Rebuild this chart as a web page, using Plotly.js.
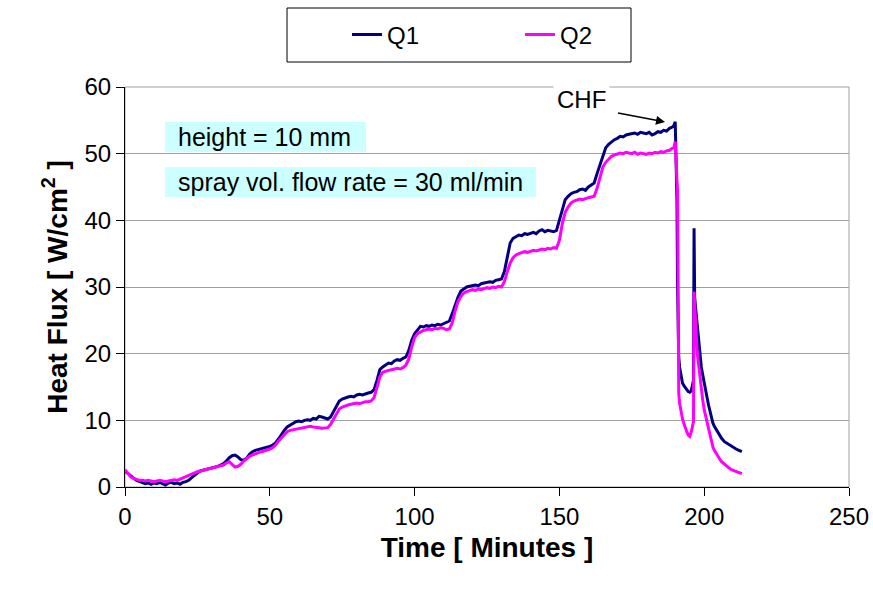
<!DOCTYPE html>
<html>
<head>
<meta charset="utf-8">
<script src="https://cdn.plot.ly/plotly-3.0.1.min.js"></script>
<style>html,body{margin:0;padding:0;background:#fff;}#chart{width:873px;height:594px;}</style>
</head>
<body>
<div id="chart"></div>
<script>
// Time in minutes (shared x values)
const minutes = [
0,1,2,3,4,5,6,7,8,9,10,11,12,13,14,15,16,17,18,19,20,21,22,23,24,25,26,27,28,29,
30,31,32,33,34,35,36,37,38,39,40,41,42,43,44,45,46,47,48,49,50,51,52,53,54,55,56,57,58,59,
60,61,62,63,64,65,66,67,68,69,70,71,72,73,74,75,76,77,78,79,80,81,82,83,84,85,86,87,88,89,
90,91,92,93,94,95,96,97,98,99,100,101,102,103,104,105,106,107,108,109,110,111,112,113,114,115,116,117,118,119,
120,121,122,123,124,125,126,127,128,129,130,131,132,133,134,135,136,137,138,139,140,141,142,143,144,145,146,147,148,149,
150,151,152,153,154,155,156,157,158,159,160,161,162,163,164,165,166,167,168,169,170,171,172,173,174,175,176,177,178,179,
180,181,182,183,184,185,186,187,188,189,
189.5,190,190.2,190.4,190.6,190.8,191,191.2,191.5,192,192.5,193,193.5,194,194.5,195,195.5,196,196.3,196.5,
196.7,197,197.3,197.6,198,198.5,199,199.5,200,200.5,201,201.5,202,202.5,203,203.5,204,204.5,205,205.5,
206,207,208,209,210,211,212,213
];

// Q1 heat flux [W/cm2]
const q1 = [
2.4,2.0,1.6,1.3,1.0,0.8,0.7,0.5,0.6,0.4,
0.6,0.5,0.7,0.5,0.3,0.6,0.7,0.5,0.6,0.4,
0.7,0.8,1.0,1.4,1.8,2.1,2.4,2.5,2.6,2.8,
2.9,3.0,3.1,3.3,3.5,3.9,4.4,4.7,4.8,4.5,
4.1,4.0,4.3,4.9,5.3,5.5,5.6,5.7,5.9,6.0,
6.1,6.3,6.6,7.2,7.9,8.5,9.0,9.3,9.6,9.8,
9.9,9.8,10.0,10.1,10.0,10.3,10.2,10.6,10.5,10.3,
10.2,10.5,11.3,12.3,12.9,13.2,13.4,13.5,13.6,13.5,
13.8,13.9,13.8,14.0,14.1,14.2,14.6,16.0,17.6,18.0,
18.3,18.6,18.5,18.9,19.1,19.0,19.3,19.5,20.5,22.0,
23.0,23.6,24.1,24.0,24.2,24.1,24.3,24.2,24.4,24.3,
24.5,24.6,24.9,26.0,27.3,28.5,29.4,29.7,30.0,30.1,
30.2,30.3,30.2,30.5,30.6,30.7,30.8,30.7,31.0,31.1,
31.2,32.3,34.5,36.6,37.3,37.6,37.8,37.7,38.0,37.9,
38.1,38.2,38.0,38.4,38.6,38.3,38.5,38.4,38.3,38.5,
40.0,41.8,43.1,43.6,44.0,44.2,44.3,44.6,44.7,44.5,
45.0,45.3,45.6,47.0,48.3,49.8,50.9,51.4,51.8,52.1,
52.3,52.6,52.5,52.8,52.9,53.0,53.1,52.9,53.2,53.1,
53.0,53.2,52.8,53.0,53.3,53.2,53.5,53.4,53.8,54.0,
54.2,54.8,50.0,45.0,42.6,30.0,21.0,19.5,18.0,16.5,
15.6,15.2,14.8,14.6,14.3,14.2,14.4,15.2,16.0,38.8,
28.6,27.0,25.5,24.1,22.0,19.5,18.0,16.8,15.5,14.3,
13.4,12.3,11.3,10.4,9.6,9.1,8.7,8.3,7.9,7.6,
7.3,6.8,6.5,6.2,5.9,5.7,5.5,5.3
];

// Q2 heat flux [W/cm2]
const q2 = [
2.6,2.0,1.5,1.3,1.1,1.0,1.0,0.9,1.0,0.9,
0.8,0.9,1.0,0.9,0.8,0.9,1.0,1.1,1.0,1.2,
1.4,1.5,1.7,1.9,2.1,2.3,2.4,2.5,2.6,2.7,
2.8,2.9,3.0,3.1,3.3,3.6,3.8,3.4,3.0,3.1,
3.4,3.9,4.3,4.6,4.8,5.0,5.2,5.3,5.4,5.5,
5.7,5.9,6.3,6.9,7.4,7.9,8.3,8.5,8.6,8.7,
8.8,8.9,9.0,9.0,9.1,9.0,9.0,8.9,8.8,8.8,
8.9,9.4,10.2,11.0,11.7,12.0,12.2,12.3,12.4,12.5,
12.6,12.5,12.7,12.8,12.8,12.9,13.4,14.8,16.5,17.2,
17.4,17.5,17.6,17.7,17.8,17.7,17.9,18.3,19.2,21.0,
22.4,23.0,23.3,23.5,23.6,23.7,23.6,23.8,23.7,23.9,
23.8,23.6,23.7,24.6,26.4,27.8,28.6,29.1,29.3,29.5,
29.6,29.5,29.7,29.6,29.8,29.9,29.8,30.0,29.9,30.1,
30.0,30.8,32.3,33.6,34.4,34.8,35.0,35.1,35.3,35.2,
35.4,35.5,35.4,35.6,35.7,35.6,35.8,35.7,35.9,35.8,
37.0,39.5,41.2,42.0,42.6,42.9,43.0,43.2,43.1,43.3,
43.4,43.5,43.6,44.8,46.6,48.0,48.7,49.2,49.6,49.8,
50.0,50.1,50.0,50.2,50.1,50.0,50.2,49.9,50.1,50.0,
49.9,50.1,50.0,50.2,50.1,50.3,50.2,50.4,50.5,50.8,
50.9,51.8,49.0,47.5,46.0,44.5,14.6,14.1,12.6,11.0,
10.2,9.5,8.8,8.3,7.8,7.6,8.2,9.2,9.8,29.3,
27.0,24.6,22.5,20.1,18.5,17.1,15.0,13.0,11.6,10.6,
10.0,9.0,8.1,7.0,6.0,5.5,5.1,4.7,4.4,4.1,
3.8,3.4,3.0,2.7,2.5,2.3,2.1,2.0
];

const seriesNames = ["Q1", "Q2"];
const xTickVals = [0, 50, 100, 150, 200, 250];
const yTickVals = [0, 10, 20, 30, 40, 50, 60];
const xTitle = "Time [ Minutes ]";
const yTitle = "Heat Flux [ W/cm<sup>2</sup> ]";
const noteHeight = "height = 10 mm";
const noteFlow = "spray vol. flow rate = 30 ml/min";
const chfLabel = "CHF";

const FONT = "Liberation Sans, Arial, Helvetica, sans-serif";

const traces = [
  {x: minutes, y: q1, name: seriesNames[0], type: "scatter", mode: "lines",
   line: {color: "#000080", width: 3}},
  {x: minutes, y: q2, name: seriesNames[1], type: "scatter", mode: "lines",
   line: {color: "#FF00FF", width: 3}}
];

const layout = {
  width: 873, height: 594,
  margin: {l: 125, r: 24, t: 87, b: 107, pad: 0},
  paper_bgcolor: "#ffffff", plot_bgcolor: "#ffffff",
  font: {family: FONT, size: 24, color: "#000"},
  showlegend: true,
  legend: {orientation: "h", x: 0.3066, xanchor: "left", y: 1.13, yanchor: "middle",
           font: {family: FONT, size: 24, color: "#000"}, bgcolor: "rgba(0,0,0,0)",
           borderwidth: 0, entrywidth: 128, entrywidthmode: "pixels", traceorder: "normal"},
  xaxis: {range: [0, 250], tickvals: xTickVals, ticks: "outside", ticklen: 8, tickwidth: 1,
          tickcolor: "#000", showline: true, linecolor: "#000", linewidth: 1,
          showgrid: false, zeroline: false, tickfont: {family: FONT, size: 24, color: "#000"},
          title: {text: "<b>" + xTitle + "</b>", font: {family: FONT, size: 28, color: "#000"}, standoff: 8}},
  yaxis: {range: [0, 60], tickvals: yTickVals, ticks: "outside", ticklen: 8, tickwidth: 1,
          tickcolor: "#000", showline: true, linecolor: "#000", linewidth: 1,
          showgrid: true, gridcolor: "#a0a0a0", gridwidth: 1, zeroline: false,
          tickfont: {family: FONT, size: 24, color: "#000"},
          title: {text: "<b>" + yTitle + "</b>", font: {family: FONT, size: 28, color: "#000"}, standoff: 8}},
  shapes: [
    // plot area border
    {type: "rect", xref: "paper", yref: "paper", x0: 0, x1: 1, y0: 0, y1: 1,
     line: {color: "#a0a0a0", width: 1}, fillcolor: "rgba(0,0,0,0)", layer: "below"},
    // legend frame
    {type: "rect", xref: "paper", yref: "paper", x0: 0.2238, x1: 0.6989, y0: 1.0625, y1: 1.1975,
     line: {color: "#000", width: 1}, fillcolor: "rgba(0,0,0,0)"},
    // note boxes
    {type: "rect", xref: "paper", yref: "paper", x0: 0.0552, x1: 0.3329, y0: 0.8375, y1: 0.9125,
     line: {width: 0}, fillcolor: "#CCFFFF", layer: "below"},
    {type: "rect", xref: "paper", yref: "paper", x0: 0.0552, x1: 0.5677, y0: 0.725, y1: 0.8,
     line: {width: 0}, fillcolor: "#CCFFFF", layer: "below"}
  ],
  annotations: [
    {xref: "paper", yref: "paper", x: 0.0704, y: 0.875, xanchor: "left", yanchor: "middle",
     text: noteHeight, showarrow: false, font: {family: FONT, size: 25, color: "#000"}},
    {xref: "paper", yref: "paper", x: 0.0704, y: 0.7625, xanchor: "left", yanchor: "middle",
     text: noteFlow, showarrow: false, font: {family: FONT, size: 25, color: "#000"}},
    {xref: "paper", yref: "paper", x: 0.63, y: 0.97, xanchor: "center", yanchor: "middle",
     text: chfLabel, showarrow: false, bgcolor: "#ffffff", borderpad: 3,
     font: {family: FONT, size: 24, color: "#000"}},
    {xref: "paper", yref: "paper", x: 0.7459, y: 0.9125, text: " ", showarrow: true,
     axref: "pixel", ayref: "pixel", ax: -52, ay: -10, arrowhead: 2, arrowsize: 1.2,
     arrowwidth: 1.5, arrowcolor: "#000", standoff: 0}
  ]
};

Plotly.newPlot("chart", traces, layout, {staticPlot: true, displayModeBar: false});
</script>
</body>
</html>
